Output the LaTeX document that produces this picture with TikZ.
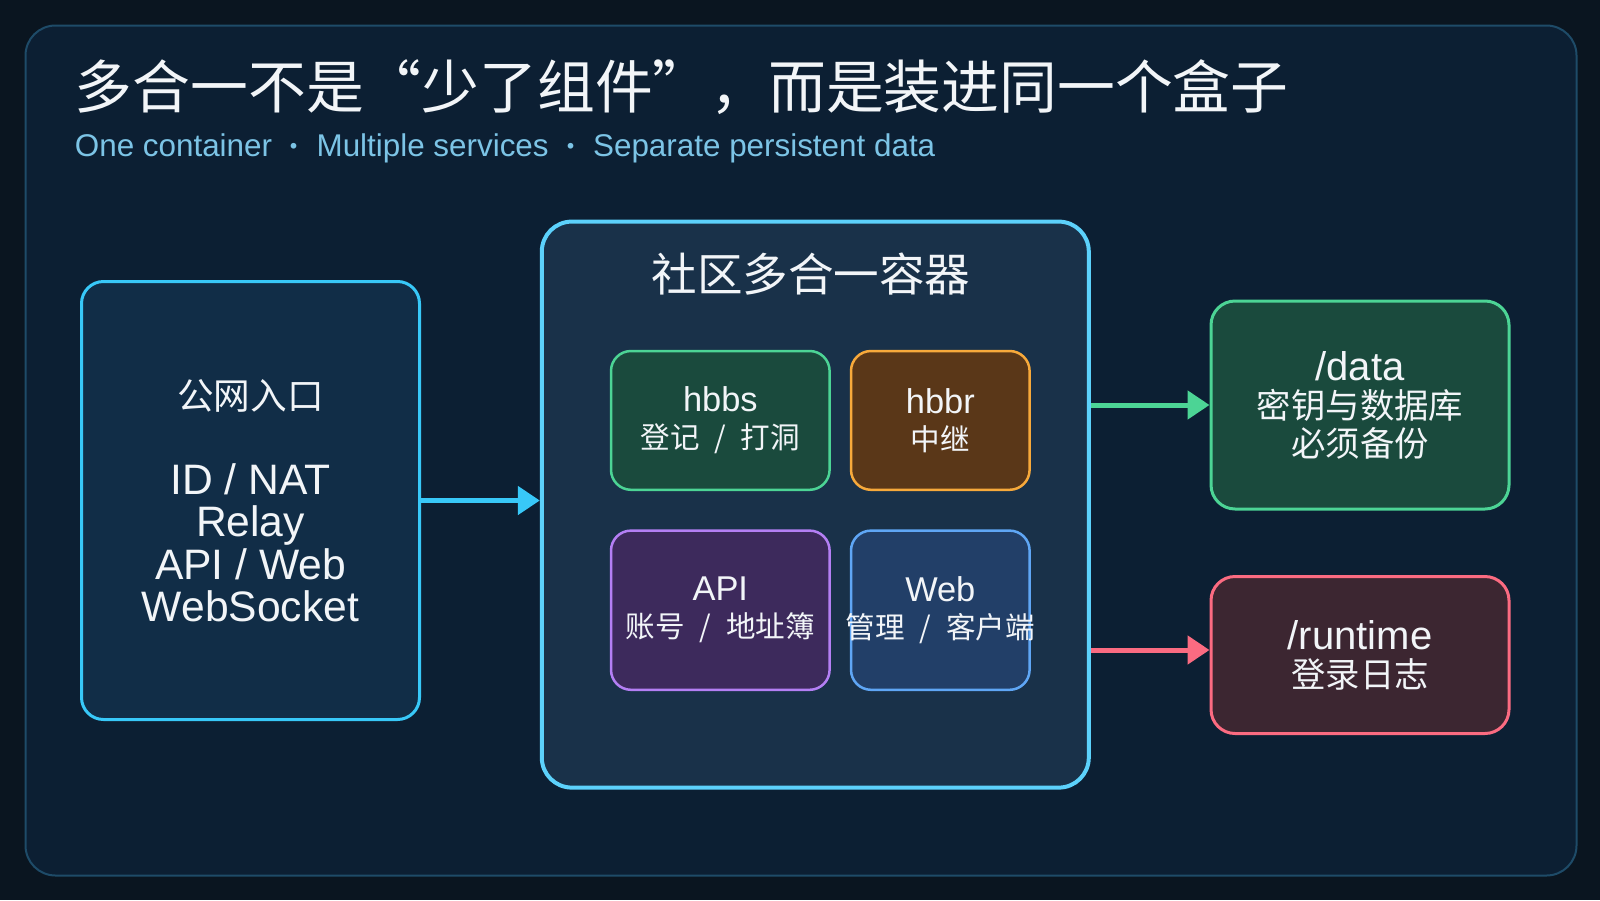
\documentclass[tikz,border=0pt]{standalone}
\usepackage{fontspec}
\setmainfont{Liberation Sans}
\newfontfamily\cjkfont[Scale=0.86]{Noto Sans CJK SC}
\usetikzlibrary{arrows.meta}
\usetikzlibrary{calc}
\definecolor{bgdark}{HTML}{0A1520}
\definecolor{panelfill}{HTML}{0C1F33}
\definecolor{panelline}{HTML}{1E4B68}
\definecolor{txt}{HTML}{F2F5F8}
\definecolor{subtxt}{HTML}{7CC4E6}
\definecolor{entryfill}{HTML}{112D47}
\definecolor{cyanline}{HTML}{38C8F8}
\definecolor{hostfill}{HTML}{193149}
\definecolor{hostline}{HTML}{5CD1FB}
\definecolor{greenfill}{HTML}{1A4A3D}
\definecolor{greenline}{HTML}{4CD495}
\definecolor{orangefill}{HTML}{5A3718}
\definecolor{orangeline}{HTML}{F7A93B}
\definecolor{purplefill}{HTML}{3D2A5C}
\definecolor{purpleline}{HTML}{B47FF4}
\definecolor{bluefill}{HTML}{223F68}
\definecolor{blueline}{HTML}{5FA6F5}
\definecolor{pinkfill}{HTML}{3C2631}
\definecolor{pinkline}{HTML}{FB6B81}
\tikzset{panel/.style={draw=panelline, fill=panelfill, line width=1pt, rounded corners=15pt}}
\tikzset{entrybox/.style={draw=cyanline, fill=entryfill, line width=1.5pt, rounded corners=11pt, minimum width=169pt, minimum height=219pt, text=txt, align=center, font=\fontsize{21.3}{21.25}\selectfont}}
\tikzset{hostbox/.style={draw=hostline, fill=hostfill, line width=2pt, rounded corners=15pt, minimum width=273.5pt, minimum height=283pt}}
\tikzset{svcbox/.style={line width=1.25pt, rounded corners=10pt, minimum height=69.4pt, text=txt, align=center, font=\fontsize{17.2}{18.5}\selectfont}}
\tikzset{volbox/.style={line width=1.5pt, rounded corners=12pt, minimum width=149pt, text=txt, align=center, font=\fontsize{20}{19}\selectfont}}
\tikzset{flow/.style={line width=2.5pt, -{Triangle[length=11pt,width=14pt]}}}

\begin{document}
\begin{tikzpicture}[x=0.5pt,y=-0.5pt]
\useasboundingbox (0,0) rectangle (1600,900);
\fill[bgdark] (0,0) rectangle (1600,900);
\draw[panel] (25.5,25.5) rectangle (1576.5,875.5);

\node[anchor=west, inner sep=0, text=txt, font=\fontsize{33.6}{40}\selectfont\cjkfont] (title) at (74.5,87.5) {多合一不是“少了组件”，而是装进同一个盒子};
\node[anchor=west, inner sep=0, text=subtxt, font=\fontsize{15.7}{18}\selectfont] (subtitle) at (74.5,148) {One container {\cjkfont ・} Multiple services {\cjkfont ・} Separate persistent data};

\node[entrybox] (entry) at (250.5,500.5) {{\cjkfont 公网入口}\\[21.25pt]ID / NAT\\Relay\\API / Web\\WebSocket};

\node[hostbox] (host) at (815.3,504.6) {};
\node[text=txt, inner sep=0, font=\fontsize{26.5}{30}\selectfont\cjkfont] (hosttitle) at (811,274) {社区多合一容器};

\node[svcbox, draw=greenline, fill=greenfill, minimum width=109.3pt] (hbbs) at (720.3,420.4) {hbbs\\{\cjkfont 登记\enskip/\enskip 打洞}};
\node[svcbox, draw=orangeline, fill=orangefill, minimum width=89.3pt] (hbbr) at (940.3,420.4) {hbbr\\{\cjkfont 中继}};
\node[svcbox, draw=purpleline, fill=purplefill, minimum width=109.3pt, minimum height=79.6pt] (api) at (720.3,610.2) {API\\{\cjkfont 账号\enskip/\enskip 地址簿}};
\node[svcbox, draw=blueline, fill=bluefill, minimum width=89.3pt, minimum height=79.6pt] (web) at (940.3,610.2) {Web\\\makebox[0pt]{\cjkfont 管理\enskip/\enskip 客户端}};

\node[volbox, draw=greenline, fill=greenfill, minimum height=104pt] (data) at (1360,405) {/data\\{\cjkfont 密钥与数据库}\\{\cjkfont 必须备份}};
\node[volbox, draw=pinkline, fill=pinkfill, minimum height=78.5pt] (runtime) at (1360,655) {/runtime\\{\cjkfont 登录日志}};
\coordinate (rtin) at ($(runtime.west)+(0,-5)$);

\draw[flow, cyanline] (entry.east) -- (entry.east -| host.west);
\draw[flow, greenline] (host.east |- data.west) -- (data.west);
\draw[flow, pinkline] (host.east |- rtin) -- (rtin);
\end{tikzpicture}
\end{document}
